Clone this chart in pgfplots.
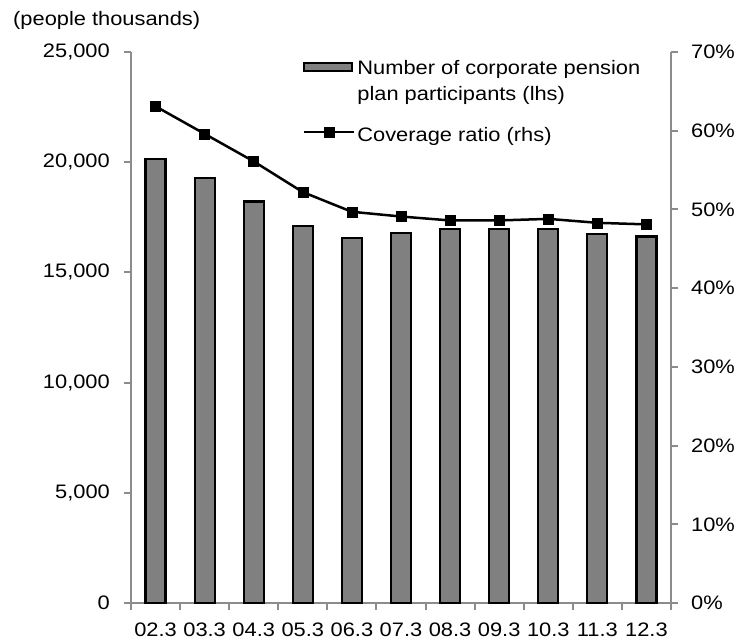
\documentclass[border=0pt]{standalone}
\usepackage{fontspec}
\setmainfont{Liberation Sans}[FakeStretch=1.12]
\usepackage{pgfplots}
\pgfplotsset{compat=1.18}
\definecolor{axgray}{RGB}{140,140,140}
\definecolor{barfill}{RGB}{128,128,128}
\pgfplotsset{linelegend/.style={legend image code/.code={\draw[mark repeat=2,mark phase=2,##1] plot coordinates {(0pt,2.7pt) (25pt,2.7pt) (50pt,2.7pt)};}}}
\begin{document}
\begin{tikzpicture}
\pgfplotsset{
 common/.style={scale only axis, width=540pt, height=551pt, xmin=-0.5, xmax=10.5,
  font=\fontsize{19.5}{24}\selectfont, /pgf/number format/assume math mode=true,
  tick align=outside, major tick length=7pt,
  axis line style={axgray, line width=2.5pt},
  every tick/.style={axgray, line width=2pt}},
}
\begin{axis}[common,
 ymin=0, ymax=25000, ytick={0,5000,...,25000},
 axis x line*=bottom, axis y line*=left,
 /pgf/number format/1000 sep={,},
 scaled y ticks=false,
 xtick={-0.5,0.5,...,10.5}, xticklabels={},
 extra x ticks={0,1,...,10},
 extra x tick labels={02.3,03.3,04.3,05.3,06.3,07.3,08.3,09.3,10.3,11.3,12.3},
 extra x tick style={major tick length=0pt},
 xticklabel style={inner sep=0pt, yshift=-20pt},
 yticklabel style={inner sep=0pt, xshift=-14pt},
 clip=false,
]
\addplot[ybar, bar width=20pt, fill=barfill, draw=black, line width=2.2pt] coordinates {
(0,20150) (1,19300) (2,18220) (3,17120) (4,16560) (5,16790) (6,16970) (7,16970) (8,16970) (9,16740) (10,16630)};
\node[anchor=base west, inner sep=0pt, font=\fontsize{19.5}{22}\selectfont] at ([shift={(-118pt,26pt)}]rel axis cs:0,1) {(people thousands)};
\end{axis}
\begin{axis}[common,
 ymin=0, ymax=70, ytick={0,10,...,70},
 axis y line*=right, axis x line=none,
 yticklabel={\pgfmathprintnumber{\tick}\%},
 yticklabel style={inner sep=0pt, xshift=13pt},
 legend style={at={(0.318,0.989)}, anchor=north west, draw=none, fill=none, inner sep=0pt,
   row sep=21pt, cells={align=left}, font=\fontsize{19.5}{26}\selectfont},
 legend cell align=left,
 clip=false,
]
\addlegendimage{legend image code/.code={\draw[fill=barfill, draw=black, line width=2pt] (0pt,9.7pt) rectangle (48pt,17.7pt);}}
\addlegendentry{Number of corporate pension\\plan participants (lhs)}
\addplot[black, line width=2.5pt, mark=square*, mark size=5pt, mark options={solid, line width=0.5pt}, linelegend] coordinates {
(0,63.1) (1,59.6) (2,56.1) (3,52.2) (4,49.7) (5,49.1) (6,48.6) (7,48.6) (8,48.8) (9,48.3) (10,48.1)};
\addlegendentry{Coverage ratio (rhs)}
\path ([shift={(-131pt,-40pt)}]rel axis cs:0,0) rectangle ([shift={(68pt,52pt)}]rel axis cs:1,1);
\end{axis}
\end{tikzpicture}
\end{document}
